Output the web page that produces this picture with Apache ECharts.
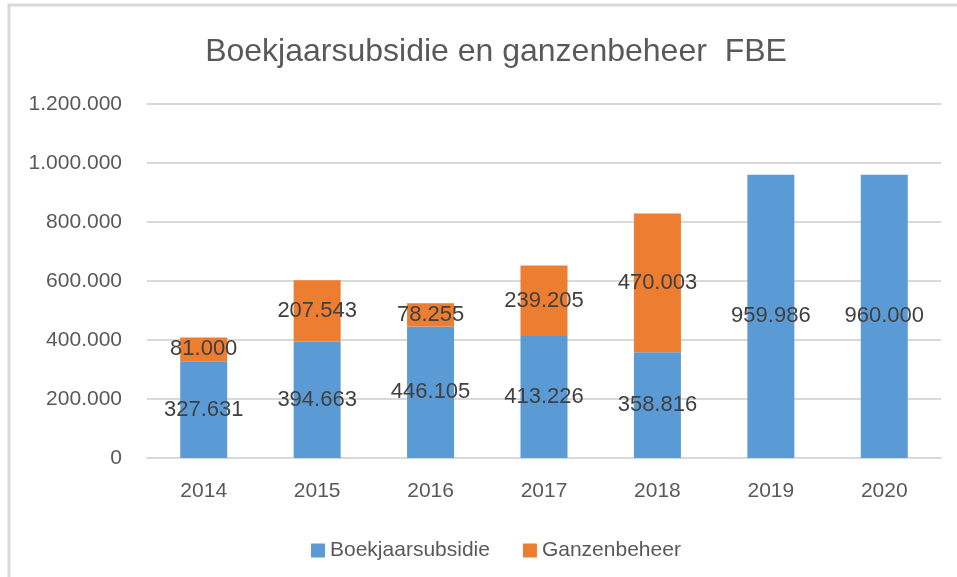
<!DOCTYPE html>
<html>
<head>
<meta charset="utf-8">
<title>Boekjaarsubsidie en ganzenbeheer FBE</title>
<script src="https://cdn.jsdelivr.net/npm/echarts@6/dist/echarts.min.js"></script>
<style>
  html, body { margin: 0; padding: 0; background: #fff; }
  #chart { width: 957px; height: 577px; }
</style>
</head>
<body>
<div id="chart"></div>
<script>
const years = ['2014', '2015', '2016', '2017', '2018', '2019', '2020']
const boekjaarsubsidie = [327631, 394663, 446105, 413226, 358816, 959986, 960000]
const ganzenbeheer = [81000, 207543, 78255, 239205, 470003, null, null]

const fontFamily = "'Liberation Sans', Arial, sans-serif"
const textGrey = '#595959'
const gridGrey = '#D9D9D9'

// dutch thousands separator: 1200000 -> 1.200.000
function nl(v) {
  return String(Math.round(v)).replace(/\B(?=(\d{3})+(?!\d))/g, '.')
}

const chart = echarts.init(document.getElementById('chart'), null, { renderer: 'canvas' })

const labelStyle = {
  show: true,
  position: 'inside',
  color: '#404040',
  fontSize: 22,
  fontFamily: fontFamily,
  formatter: p => nl(p.value)
}

chart.setOption({
  animation: false,
  backgroundColor: '#fff',
  title: {
    text: 'Boekjaarsubsidie en ganzenbeheer  FBE',
    left: 491,
    top: 31,
    textAlign: 'center',
    textStyle: {
      color: textGrey,
      fontSize: 32,
      fontWeight: 'normal',
      fontFamily: fontFamily
    }
  },
  legend: {
    data: ['Boekjaarsubsidie', 'Ganzenbeheer'],
    left: 306,
    top: 535,
    icon: 'rect',
    itemWidth: 14,
    itemHeight: 14,
    itemGap: 33,
    textStyle: { color: textGrey, fontSize: 21, fontFamily: fontFamily }
  },
  graphic: [
    {
      type: 'rect',
      shape: { x: 9, y: 5, width: 1000, height: 700 },
      style: { fill: null, stroke: gridGrey, lineWidth: 3 },
      silent: true
    }
  ],
  grid: { left: 147, right: 16, top: 104, bottom: 119 },
  xAxis: {
    type: 'category',
    data: years,
    axisTick: { show: false },
    axisLine: { lineStyle: { color: gridGrey, width: 2 } },
    axisLabel: { color: textGrey, fontSize: 21, fontFamily: fontFamily, margin: 23 }
  },
  yAxis: {
    type: 'value',
    min: 0,
    max: 1200000,
    interval: 200000,
    axisLine: { show: false },
    axisTick: { show: false },
    splitLine: { lineStyle: { color: gridGrey, width: 2 } },
    axisLabel: {
      color: textGrey,
      fontSize: 21,
      fontFamily: fontFamily,
      margin: 25,
      formatter: v => nl(v)
    }
  },
  series: [
    {
      name: 'Boekjaarsubsidie',
      type: 'bar',
      stack: 'totaal',
      data: boekjaarsubsidie,
      barWidth: 47,
      itemStyle: { color: '#5B9BD5' },
      label: labelStyle
    },
    {
      name: 'Ganzenbeheer',
      type: 'bar',
      stack: 'totaal',
      data: ganzenbeheer,
      barWidth: 47,
      itemStyle: { color: '#ED7D31' },
      label: labelStyle
    }
  ]
})
</script>
</body>
</html>
